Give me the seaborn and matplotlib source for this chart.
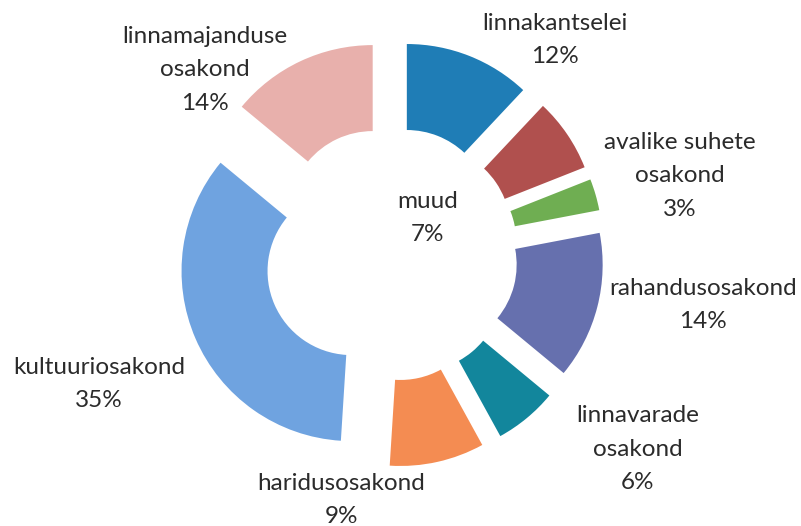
import seaborn as sns
import matplotlib.pyplot as plt

# slices, clockwise from 12 o'clock
labels = ["linnakantselei", "muud", "avalike suhete\nosakond", "rahandusosakond",
          "linnavarade\nosakond", "haridusosakond", "kultuuriosakond",
          "linnamajanduse\nosakond"]
shares = [12, 7, 3, 14, 6, 9, 35, 14]
colors = ["#1f7db6", "#b0504e", "#6fae52", "#6670ae",
          "#12869c", "#f48c52", "#6fa3e0", "#e8b0ac"]

# where each label sits (figure pixels, from top-left)
label_pos = [(555, 40), (428, 218), (680, 176), (703, 305),
             (638, 449), (341, 500), (99, 384), (205, 70)]

sns.set_theme(style="white")
plt.rcParams["font.family"] = ["Lato", "DejaVu Sans"]

W, H = 801, 526
fig = plt.figure(figsize=(W / 100, H / 100), dpi=100)
ax = fig.add_axes([0, 0, 1, 1])

R = 170
cx, cy = 391, H - 254
ax.pie(
    shares,
    radius=R,
    center=(cx, cy),
    startangle=90,
    counterclock=False,
    colors=colors,
    explode=[43] * len(shares),
    wedgeprops=dict(width=86, linewidth=0),
)

for lab, val, (x, y) in zip(labels, shares, label_pos):
    ax.text(x, H - y, f"{lab}\n{val}%", ha="center", va="center",
            fontsize=17.5, color="#2b2b2b", linespacing=1.75)

ax.set_xlim(0, W)
ax.set_ylim(0, H)
ax.set_aspect("equal")
ax.axis("off")

fig.savefig("out.png", dpi=100, facecolor="white")
